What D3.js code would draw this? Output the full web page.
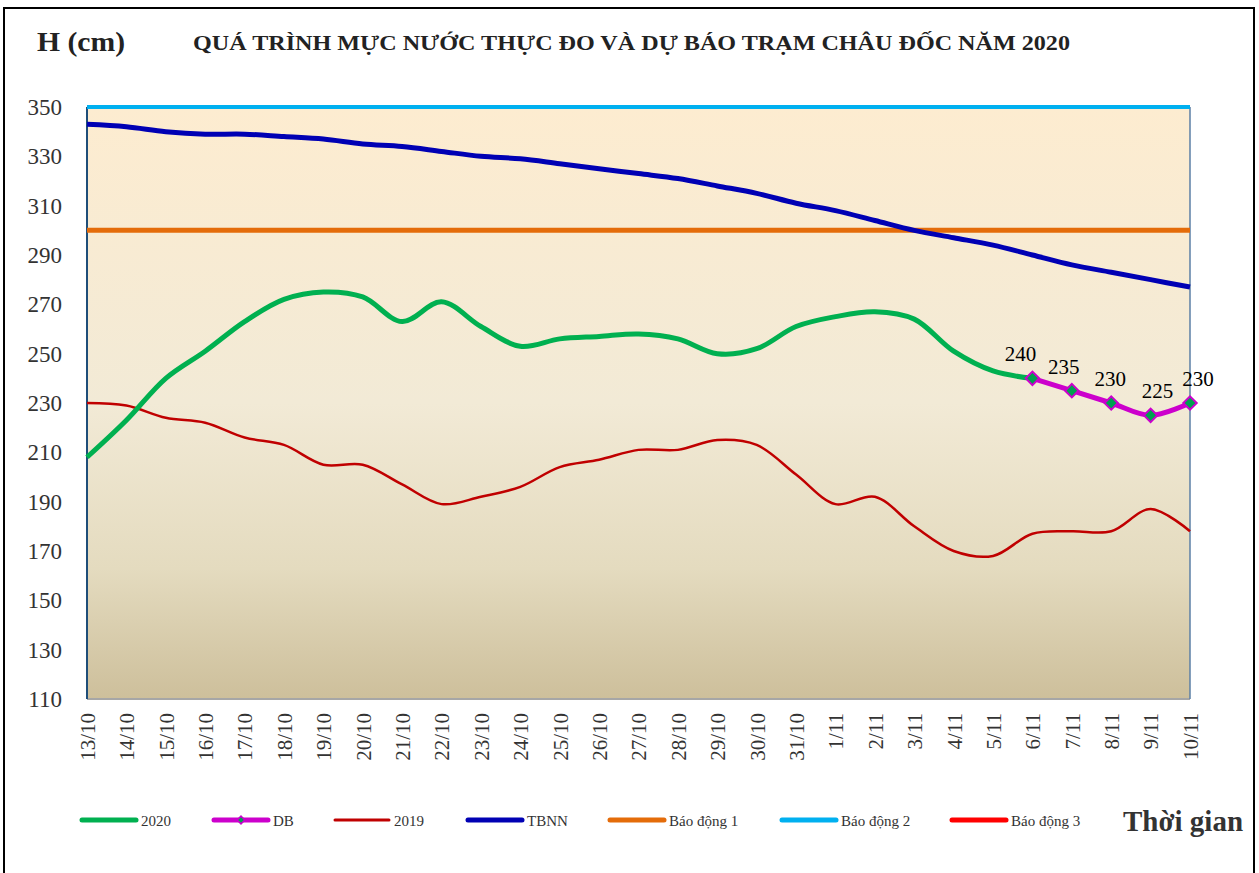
<!DOCTYPE html>
<html>
<head>
<meta charset="utf-8">
<script src="https://cdn.jsdelivr.net/npm/d3@7"></script>
<style>
  body { margin: 0; background: #fff; }
  svg text { font-family: "Liberation Serif", "Times New Roman", serif; }
</style>
</head>
<body>
<div id="chart"></div>
<script>
// ngày (trục x)
var days = ["13/10","14/10","15/10","16/10","17/10","18/10","19/10","20/10","21/10","22/10",
    "23/10","24/10","25/10","26/10","27/10","28/10","29/10","30/10","31/10","1/11",
    "2/11","3/11","4/11","5/11","6/11","7/11","8/11","9/11","10/11"];

var h2020 = [208, 223, 240, 251, 263, 272, 275, 273, 263, 271,
    261, 253, 256, 257, 258, 256, 250, 252, 261, 265,
    267, 264, 251, 243, 240];

var dbDays = ["6/11","7/11","8/11","9/11","10/11"];
var hDB = [240, 235, 230, 225, 230];

var h2019 = [230, 229, 224, 222, 216, 213, 205, 205, 197, 189,
    192, 196, 204, 207, 211, 211, 215, 213, 201, 189,
    192, 180, 170, 168, 177, 178, 178, 187, 178];

var hTBNN = [343, 342, 340, 339, 339, 338, 337, 335, 334, 332,
    330, 329, 327, 325, 323, 321, 318, 315, 311, 308,
    304, 300, 297, 294, 290, 286, 283, 280, 277];

var baoDong1 = 300, baoDong2 = 350, baoDong3 = 400;
var yTicks = [110, 130, 150, 170, 190, 210, 230, 250, 270, 290, 310, 330, 350];

var W = 1259, H = 873;
var margin = {top: 107, right: 69, bottom: 174, left: 87};

var svg = d3.select("#chart").append("svg")
    .attr("width", W)
    .attr("height", H);

var defs = svg.append("defs");
var grad = defs.append("linearGradient")
    .attr("id", "bg")
    .attr("x1", 0).attr("y1", 0).attr("x2", 0).attr("y2", 1);
grad.append("stop").attr("offset", "0%").attr("stop-color", "#fdecd0");
grad.append("stop").attr("offset", "50%").attr("stop-color", "#f2ead6");
grad.append("stop").attr("offset", "78%").attr("stop-color", "#e4dbbf");
grad.append("stop").attr("offset", "100%").attr("stop-color", "#cdbf9b");

// khung ngoài
svg.append("rect")
    .attr("x", 4).attr("y", 8)
    .attr("width", 1250).attr("height", 880)
    .attr("fill", "none")
    .attr("stroke", "#000")
    .attr("stroke-width", 2);

var x = d3.scalePoint()
    .domain(days)
    .range([margin.left, W - margin.right]);

var y = d3.scaleLinear()
    .domain([110, 350])
    .range([H - margin.bottom, margin.top]);

// nền vùng vẽ
svg.append("rect")
    .attr("x", x.range()[0])
    .attr("y", y(350))
    .attr("width", x.range()[1] - x.range()[0])
    .attr("height", y(110) - y(350))
    .attr("fill", "url(#bg)");

// viền vùng vẽ
svg.append("line")
    .attr("x1", x.range()[0]).attr("x2", x.range()[1])
    .attr("y1", y(110)).attr("y2", y(110))
    .attr("stroke", "#a6a6a6").attr("stroke-width", 2);
svg.append("line")
    .attr("x1", x.range()[1]).attr("x2", x.range()[1])
    .attr("y1", y(350)).attr("y2", y(110))
    .attr("stroke", "#5b7fa6").attr("stroke-width", 1.5);
svg.append("line")
    .attr("x1", x.range()[0]).attr("x2", x.range()[0])
    .attr("y1", y(350)).attr("y2", y(110))
    .attr("stroke", "#1f4e79").attr("stroke-width", 2);

// trục y
var yAxis = svg.append("g")
    .attr("transform", "translate(" + (margin.left - 25) + ",0)")
    .call(d3.axisLeft(y).tickValues(yTicks).tickSize(0).tickPadding(0));
yAxis.select(".domain").remove();
yAxis.selectAll("text")
    .attr("font-size", 23)
    .attr("fill", "#333")
    .attr("font-family", "Liberation Serif, serif");

// trục x
var xAxis = svg.append("g")
    .attr("transform", "translate(0," + (y(110) + 14) + ")")
    .call(d3.axisBottom(x).tickSize(0).tickPadding(0));
xAxis.select(".domain").remove();
xAxis.selectAll("text")
    .attr("font-size", 21)
    .attr("fill", "#333")
    .attr("font-family", "Liberation Serif, serif")
    .attr("text-anchor", "end")
    .attr("transform", "rotate(-90)")
    .attr("dy", "0.35em")
    .attr("x", 0)
    .attr("y", 0);

var line = d3.line()
    .x(function(d) { return x(d.day); })
    .y(function(d) { return y(d.value); })
    .curve(d3.curveCatmullRom.alpha(0.5));

function series(labels, values) {
    return values.map(function(v, i) { return {day: labels[i], value: v}; });
}

// Báo động 2
svg.append("line")
    .attr("x1", x.range()[0]).attr("x2", x.range()[1])
    .attr("y1", y(baoDong2)).attr("y2", y(baoDong2))
    .attr("stroke", "#00b0f0").attr("stroke-width", 4);

// Báo động 1
svg.append("line")
    .attr("x1", x.range()[0]).attr("x2", x.range()[1])
    .attr("y1", y(baoDong1)).attr("y2", y(baoDong1))
    .attr("stroke", "#e46c0a").attr("stroke-width", 5);

svg.append("path")
    .datum(series(days, hTBNN))
    .attr("d", line)
    .attr("fill", "none")
    .attr("stroke", "#0000b4")
    .attr("stroke-width", 5);

svg.append("path")
    .datum(series(days, h2019))
    .attr("d", line)
    .attr("fill", "none")
    .attr("stroke", "#c00000")
    .attr("stroke-width", 2.5);

svg.append("path")
    .datum(series(days, h2020))
    .attr("d", line)
    .attr("fill", "none")
    .attr("stroke", "#00b050")
    .attr("stroke-width", 5);

var db = series(dbDays, hDB);
svg.append("path")
    .datum(db)
    .attr("d", line)
    .attr("fill", "none")
    .attr("stroke", "#cc00cc")
    .attr("stroke-width", 5);

// marker hình thoi (vuông xoay 45 độ)
var diamond = d3.symbol().type(d3.symbolSquare).size(90);
svg.selectAll(".db-pt")
    .data(db).enter().append("path")
    .attr("class", "db-pt")
    .attr("transform", function(d) { return "translate(" + x(d.day) + "," + y(d.value) + ") rotate(45)"; })
    .attr("d", diamond)
    .attr("fill", "#00a050")
    .attr("stroke", "#cc00cc")
    .attr("stroke-width", 2);

svg.selectAll(".db-lbl")
    .data(db).enter().append("text")
    .attr("class", "db-lbl")
    .attr("x", function(d, i) { return x(d.day) + [-12, -8, -1, 7, 8][i]; })
    .attr("y", function(d) { return y(d.value) - 17; })
    .attr("text-anchor", "middle")
    .attr("font-size", 21)
    .attr("fill", "#000")
    .text(function(d) { return d.value; });

// tiêu đề
svg.append("text")
    .attr("x", 37).attr("y", 51)
    .attr("font-size", 27)
    .attr("font-weight", "bold")
    .attr("fill", "#222")
    .attr("textLength", 88)
    .attr("lengthAdjust", "spacingAndGlyphs")
    .text("H (cm)");

svg.append("text")
    .attr("x", 193).attr("y", 50)
    .attr("font-size", 20)
    .attr("font-weight", "bold")
    .attr("fill", "#222")
    .attr("textLength", 877)
    .attr("lengthAdjust", "spacingAndGlyphs")
    .text("QUÁ TRÌNH MỰC NƯỚC THỰC ĐO VÀ DỰ BÁO TRẠM CHÂU ĐỐC NĂM  2020");

// chú thích
var legendItems = [
    {name: "2020", color: "#00b050", width: 5, x: 82},
    {name: "DB", color: "#cc00cc", width: 5, x: 214, marker: true},
    {name: "2019", color: "#c00000", width: 3, x: 335},
    {name: "TBNN", color: "#0000b4", width: 5, x: 468},
    {name: "Báo động 1", color: "#e46c0a", width: 5, x: 610},
    {name: "Báo động 2", color: "#00b0f0", width: 5, x: 782},
    {name: "Báo động 3", color: "#ff0000", width: 5, x: 952}
];
var legY = 820;
var leg = svg.selectAll(".leg")
    .data(legendItems).enter().append("g")
    .attr("class", "leg")
    .attr("transform", function(d) { return "translate(" + d.x + "," + legY + ")"; });
leg.append("line")
    .attr("x1", 0).attr("x2", 54)
    .attr("y1", 0).attr("y2", 0)
    .attr("stroke", function(d) { return d.color; })
    .attr("stroke-width", function(d) { return d.width; })
    .attr("stroke-linecap", "round");
leg.filter(function(d) { return d.marker; }).append("path")
    .attr("transform", "translate(27,0) rotate(45)")
    .attr("d", d3.symbol().type(d3.symbolSquare).size(30))
    .attr("fill", "#00a050")
    .attr("stroke", "#cc00cc")
    .attr("stroke-width", 1.5);
leg.append("text")
    .attr("x", 59)
    .attr("y", 6)
    .attr("font-size", 15)
    .attr("fill", "#333")
    .text(function(d) { return d.name; });

svg.append("text")
    .attr("x", 1123).attr("y", 831)
    .attr("font-size", 29)
    .attr("font-weight", "bold")
    .attr("fill", "#333")
    .text("Thời gian");
</script>
</body>
</html>
